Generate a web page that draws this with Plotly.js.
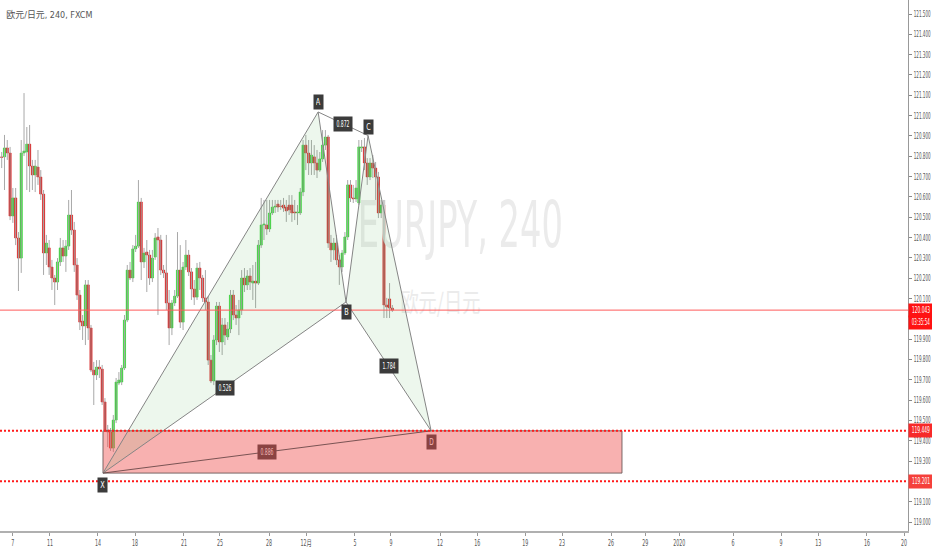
<!DOCTYPE html>
<html><head><meta charset="utf-8">
<script src="https://cdn.plot.ly/plotly-3.0.1.min.js"></script>
<style>html,body{margin:0;padding:0;background:#fff}#chart{width:932px;height:550px}</style>
</head><body><div id="chart"></div>
<script>
// ---- data (EURJPY 4h, FXCM) ----
const opens = [120.797,120.797,120.841,120.816,120.506,120.595,120.398,120.299,120.816,120.821,120.860,120.752,120.708,120.747,120.698,120.614,120.324,120.349,120.255,120.201,120.181,120.280,120.349,120.309,120.358,120.511,120.437,120.265,120.117,119.989,119.965,120.167,119.955,119.748,119.724,119.763,119.753,119.591,119.453,119.443,119.364,119.502,119.684,119.689,119.758,119.994,120.240,120.201,120.344,120.358,120.575,120.280,120.329,120.314,120.201,120.304,120.403,120.388,120.240,120.226,120.078,119.955,120.078,120.112,120.240,119.984,120.255,120.314,120.231,120.147,120.107,120.250,120.201,120.103,120.083,119.797,119.694,119.896,120.063,119.886,119.970,119.911,119.950,120.117,120.019,120.004,120.044,120.201,120.167,120.211,120.176,120.186,120.176,120.363,120.462,120.462,120.442,120.521,120.550,120.565,120.555,120.560,120.550,120.560,120.560,120.526,120.521,120.521,120.624,120.855,120.816,120.767,120.797,120.767,120.732,120.787,120.855,120.895,120.373,120.339,120.373,120.290,120.255,120.324,120.403,120.659,120.595,120.590,120.570,120.841,120.846,120.767,120.698,120.767,120.742,120.698,120.521,120.560,120.068,120.098,120.053];
const highs = [120.821,120.905,120.880,120.846,120.644,120.644,120.427,120.880,121.111,120.944,120.954,120.782,120.782,120.831,120.732,120.634,120.413,120.388,120.290,120.216,120.299,120.398,120.388,120.388,120.585,120.634,120.477,120.299,120.142,120.019,120.191,120.191,119.970,119.788,119.797,119.797,119.773,119.610,119.478,119.463,119.527,119.709,119.738,119.773,120.019,120.265,120.280,120.363,120.413,120.683,120.595,120.349,120.388,120.339,120.339,120.422,120.447,120.413,120.265,120.413,120.142,120.093,120.142,120.427,120.363,120.280,120.388,120.339,120.250,120.191,120.275,120.280,120.216,120.240,120.112,119.822,119.920,120.083,120.083,120.004,120.004,119.984,120.142,120.142,120.068,120.093,120.240,120.250,120.240,120.250,120.265,120.280,120.388,120.595,120.585,120.585,120.585,120.585,120.585,120.585,120.585,120.595,120.585,120.609,120.609,120.585,120.560,120.644,120.880,120.905,120.880,120.880,120.855,120.831,120.821,120.929,120.929,120.905,120.413,120.398,120.413,120.314,120.339,120.427,120.683,120.683,120.659,120.683,120.880,120.880,120.890,120.791,120.791,120.806,120.772,120.723,120.585,120.585,120.103,120.176,120.068];
const lows = [120.742,120.634,120.782,120.486,120.472,120.363,120.137,120.226,120.801,120.634,120.624,120.634,120.624,120.659,120.585,120.216,120.265,120.216,120.142,120.068,120.142,120.260,120.280,120.231,120.339,120.413,120.231,120.093,119.945,119.896,119.871,119.896,119.738,119.576,119.699,119.709,119.576,119.443,119.369,119.350,119.345,119.487,119.674,119.674,119.748,119.984,120.191,120.181,120.329,120.349,120.191,120.250,120.132,120.167,120.181,120.290,120.019,120.216,120.201,120.044,119.871,119.920,120.063,120.103,119.955,119.945,120.240,120.211,120.093,120.068,120.093,120.142,120.083,120.044,119.773,119.684,119.674,119.871,119.837,119.822,119.871,119.896,119.930,119.994,119.970,119.920,120.019,120.132,120.142,120.142,120.093,120.053,120.167,120.349,120.388,120.413,120.427,120.511,120.521,120.526,120.536,120.526,120.477,120.511,120.477,120.486,120.462,120.511,120.604,120.732,120.708,120.708,120.708,120.693,120.723,120.772,120.831,120.349,120.280,120.290,120.265,120.167,120.231,120.314,120.388,120.575,120.570,120.575,120.560,120.821,120.732,120.659,120.683,120.693,120.585,120.496,120.496,120.004,120.004,120.004,120.034];
const closes = [120.794,120.841,120.816,120.506,120.595,120.398,120.299,120.816,120.826,120.860,120.752,120.708,120.752,120.698,120.614,120.324,120.373,120.255,120.201,120.181,120.280,120.349,120.309,120.358,120.511,120.437,120.265,120.117,119.984,119.965,120.167,119.955,119.748,119.724,119.763,119.753,119.591,119.453,119.443,119.364,119.502,119.689,119.699,119.758,119.994,120.240,120.201,120.344,120.358,120.575,120.280,120.324,120.314,120.201,120.299,120.398,120.388,120.240,120.226,120.078,119.955,120.078,120.112,120.240,119.984,120.255,120.314,120.231,120.147,120.107,120.250,120.201,120.103,120.083,119.797,119.694,119.896,120.063,119.886,119.970,119.920,119.950,120.117,120.019,120.004,120.044,120.201,120.167,120.211,120.181,120.186,120.176,120.363,120.462,120.467,120.442,120.521,120.550,120.555,120.550,120.553,120.545,120.531,120.536,120.521,120.521,120.526,120.624,120.855,120.816,120.767,120.806,120.767,120.732,120.787,120.855,120.895,120.373,120.339,120.373,120.290,120.255,120.324,120.403,120.659,120.595,120.590,120.644,120.846,120.846,120.767,120.698,120.767,120.742,120.698,120.521,120.560,120.068,120.058,120.053,120.043];

const dayTickIdx  = [4.0,17.3,34.5,47.8,65.3,78.2,95.8,109.1,126.6,139.5,157.1,170.4,187.6,200.8,218.4,230.6,242.8,262.1,279.3,292.6,310.1,323.4];
const dayTickText = ['7','11','14','18','21','25','28','12月','5','9','12','16','19','23','26','29','2020','6','9','13','16','20'];
const priceTicks  = [119.0,119.1,119.2,119.3,119.4,119.5,119.6,119.7,119.8,119.9,120.0,120.1,120.2,120.3,120.4,120.5,120.6,120.7,120.8,120.9,121.0,121.1,121.2,121.3,121.4,121.5];

// harmonic pattern X-A-B-C-D
const patternNames = ['X','A','B','C','D'];
const patternIdx   = [36.3,113.4,123.4,131.3,153.9];
const patternPrice = [119.241,121.018,120.083,120.902,119.449];
const ratioText    = ['0.526','0.872','1.784','0.886'];
const ratioPairs   = [[0,2],[1,3],[2,4],[0,4]];
const zoneEndIdx   = 222.3;

const lastPrice = 120.043;
const countdown = '03:35:54';
const levelPrices = [119.449, 119.201];
const titleText = '欧元/日元, 240, FXCM';
const watermark1 = 'EURJPY, 240';
const watermark2 = '欧元/日元';

// ---- view ----
const xRange = [-0.61, 324.8];
const yRange = [118.956, 121.569];
const FONT = '"DejaVu Sans Condensed","Liberation Sans","Noto Sans CJK SC",sans-serif';
const UP = '#1fd11f', DOWN = '#d60a0a', WICK = '#a8a8a8', PAT = '#858585';

const idx = opens.map((_, i) => i);
const fx = f => xRange[0] + f * (xRange[1] - xRange[0]);
const fy = f => yRange[0] + f * (yRange[1] - yRange[0]);

const traces = [];
// watermark (under candles)
traces.push({type:'scatter', mode:'text', x:[fx(0.507)], y:[fy(0.565)], text:[watermark1],
  textfont:{family:FONT, size:64, color:'#ebebeb'}, hoverinfo:'skip', showlegend:false});
traces.push({type:'scatter', mode:'text', x:[fx(0.485)], y:[fy(0.425)], text:[watermark2],
  textfont:{family:'"Noto Sans CJK SC",sans-serif', size:26, color:'#ebebeb'}, hoverinfo:'skip', showlegend:false});

// wicks
const wx = [], wy = [];
idx.forEach(i => { wx.push(i, i, null); wy.push(lows[i], highs[i], null); });
traces.push({type:'scatter', mode:'lines', x:wx, y:wy, line:{color:WICK, width:1}, hoverinfo:'skip', showlegend:false});
// bodies
traces.push({type:'bar', x:idx,
  base: idx.map(i => Math.min(opens[i], closes[i])),
  y: idx.map(i => Math.abs(closes[i] - opens[i])),
  width: 0.8,
  marker:{color: idx.map(i => closes[i] >= opens[i] ? UP : DOWN),
          line:{color: idx.map(i => closes[i] >= opens[i] ? UP : DOWN), width:0.5}},
  hoverinfo:'skip', showlegend:false});

// target zone rectangle
const X = 0, D = 4;
traces.push({type:'scatter', mode:'lines', fill:'toself',
  x:[patternIdx[X], zoneEndIdx, zoneEndIdx, patternIdx[X], patternIdx[X]],
  y:[patternPrice[X], patternPrice[X], patternPrice[D], patternPrice[D], patternPrice[X]],
  fillcolor:'rgba(239,83,80,0.45)', line:{color:'rgba(100,80,80,0.85)', width:1}, hoverinfo:'skip', showlegend:false});

// green triangles XAB and BCD
[[0,1,2],[2,3,4]].forEach(t => {
  traces.push({type:'scatter', mode:'none', fill:'toself',
    x:[...t.map(k => patternIdx[k]), patternIdx[t[0]]],
    y:[...t.map(k => patternPrice[k]), patternPrice[t[0]]],
    fillcolor:'rgba(76,175,80,0.1)', hoverinfo:'skip', showlegend:false});
});
// pattern legs
traces.push({type:'scatter', mode:'lines', x:patternIdx, y:patternPrice,
  line:{color:PAT, width:1}, hoverinfo:'skip', showlegend:false});
ratioPairs.forEach(p => {
  traces.push({type:'scatter', mode:'lines', x:[patternIdx[p[0]], patternIdx[p[1]]], y:[patternPrice[p[0]], patternPrice[p[1]]],
    line:{color: p[0]===0 && p[1]===4 ? 'rgba(90,60,60,0.8)' : PAT, width:1}, hoverinfo:'skip', showlegend:false});
});

// ---- annotations ----
const ann = [];
const squashInfo = [];   // per annotation: target text width (px)
const inZone = (xv, yv) => xv >= patternIdx[X] && xv <= zoneEndIdx && yv <= patternPrice[D] + 0.001 && yv >= patternPrice[X];
const pointShift = [-12, 10, -10, 9, -11];
patternNames.forEach((n, k) => {
  const z = inZone(patternIdx[k], patternPrice[k] + pointShift[k] / 203);
  ann.push({x:patternIdx[k], y:patternPrice[k], xref:'x', yref:'y', text:n, showarrow:false, yshift:pointShift[k],
    width:5, font:{family:FONT, size:8.5, color: z ? '#f3b6b4' : '#ffffff'}, bgcolor: z ? '#8a4342' : '#3b3b3b', borderpad:2});
  squashInfo.push(4.5);
});
ratioPairs.forEach((p, k) => {
  const mx = (patternIdx[p[0]] + patternIdx[p[1]]) / 2, my = (patternPrice[p[0]] + patternPrice[p[1]]) / 2;
  const z = inZone(mx, my);
  ann.push({x:mx, y:my, xref:'x', yref:'y', text:ratioText[k], showarrow:false, width:14,
    font:{family:FONT, size:8.5, color: z ? '#f3b6b4' : '#ffffff'}, bgcolor: z ? '#8a4342' : '#3b3b3b', borderpad:2});
  squashInfo.push(13);
});
// title
ann.push({x:0, y:1, xref:'paper', yref:'paper', xanchor:'left', yanchor:'top', xshift:4, yshift:-7,
  text:titleText, showarrow:false, font:{family:FONT, size:9, color:'#555'}});
squashInfo.push(86);
// price-scale labels
const scaleLab = (y, txt, col, ys) => {
  ann.push({x:1, y:y, xref:'paper', yref:'y', xanchor:'left', yshift:ys||0,
    text:txt, showarrow:false, bgcolor:col, borderpad:2, width:20, font:{family:FONT, size:8, color:'#fff'}});
  squashInfo.push(18);
};
scaleLab(lastPrice, lastPrice.toFixed(3), '#ff1212');
scaleLab(lastPrice, countdown, '#ff1212', -12);
scaleLab(levelPrices[0], levelPrices[0].toFixed(3), '#f72a2a');
scaleLab(levelPrices[1], levelPrices[1].toFixed(3), '#f5403b');

// ---- shapes ----
const shapes = [];
shapes.push({type:'line', xref:'paper', x0:0, x1:1, yref:'y', y0:lastPrice, y1:lastPrice, line:{color:'#ff5a5a', width:1}});
levelPrices.forEach(v => shapes.push({type:'line', xref:'paper', x0:0, x1:1, yref:'y', y0:v, y1:v,
  line:{color:'#ff1a1a', width:2, dash:'2px,2px'}}));

const layout = {
  width:932, height:550, margin:{l:0, r:24, t:0, b:19},
  paper_bgcolor:'#ffffff', plot_bgcolor:'#ffffff', showlegend:false, barmode:'overlay',
  font:{family:FONT},
  xaxis:{range:xRange, tickmode:'array', tickvals:dayTickIdx, ticktext:dayTickText, showgrid:false, zeroline:false,
    showline:true, linecolor:'#b0b0b0', linewidth:2, ticks:'outside', ticklen:3, tickcolor:'#999',
    tickfont:{family:FONT, size:8.5, color:'#555'}, fixedrange:true},
  yaxis:{range:yRange, side:'right', tickmode:'array', tickvals:priceTicks, ticktext:priceTicks.map(v => v.toFixed(3)),
    showgrid:false, zeroline:false, showline:true, linecolor:'#999', linewidth:1, ticks:'outside', ticklen:3, tickcolor:'#888',
    tickfont:{family:FONT, size:8.5, color:'#555'}, fixedrange:true},
  annotations:ann, shapes:shapes
};

// the reference is drawn in a tall, condensed face: condense text horizontally
function squash(el, target) {
  const len = el.getComputedTextLength();
  if (!len) return;
  el.setAttribute('textLength', Math.min(target, len));
  el.setAttribute('lengthAdjust', 'spacingAndGlyphs');
}
Plotly.newPlot('chart', traces, layout, {staticPlot:true, displayModeBar:false}).then(gd => {
  gd.querySelectorAll('.ytick text').forEach(t => squash(t, 17));
  gd.querySelectorAll('.xtick text').forEach(t => squash(t, t.getComputedTextLength() * 0.62));
  gd.querySelectorAll('g.annotation').forEach(g => {
    const i = +g.getAttribute('data-index');
    const t = g.querySelector('text.annotation-text');
    if (t && squashInfo[i]) squash(t, squashInfo[i]);
  });
  const tp = gd.querySelectorAll('.textpoint text');
  if (tp[0]) squash(tp[0], 205);
  if (tp[1]) squash(tp[1], 80);
});
</script></body></html>
